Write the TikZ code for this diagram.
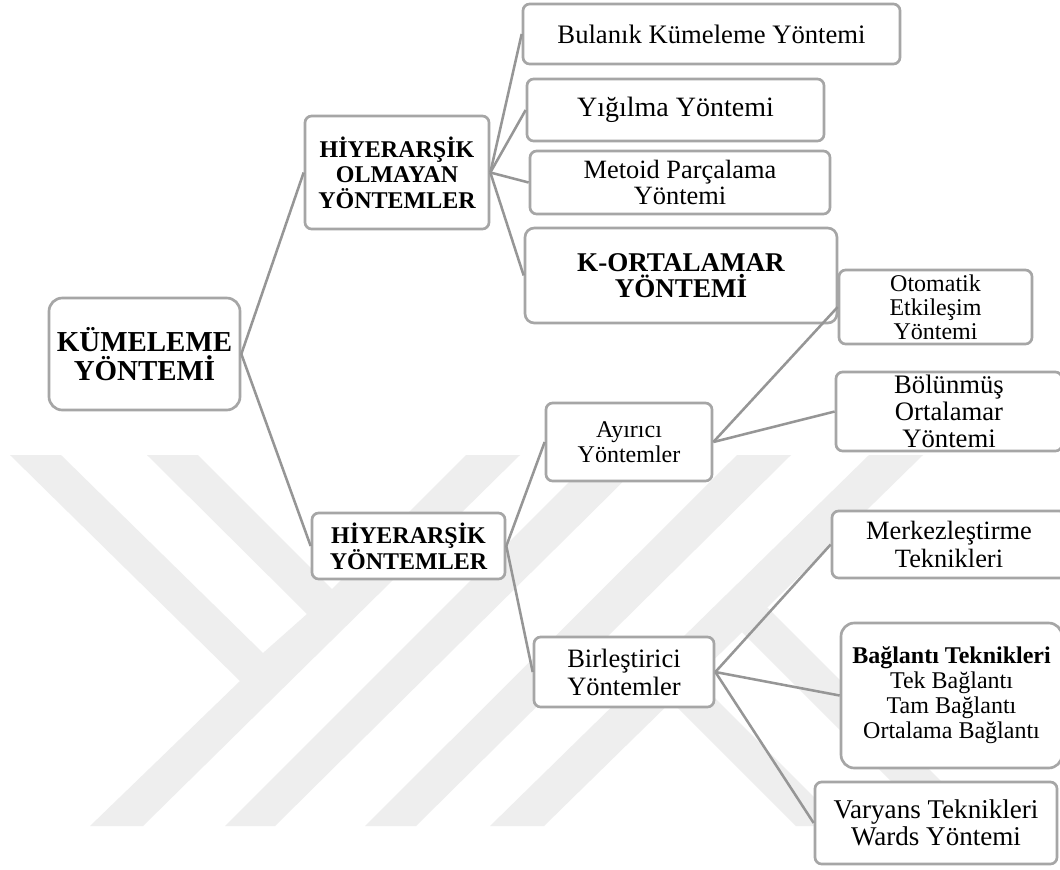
\documentclass[tikz,border=0pt]{standalone}
\usepackage{fontspec}
\setmainfont{Liberation Serif}
\definecolor{boxgrey}{RGB}{166,166,166}
\definecolor{linegrey}{RGB}{150,150,150}
\definecolor{markgrey}{RGB}{238,238,238}
\tikzset{
  boxnode/.style={draw=boxgrey,line width=2pt,rounded corners=5pt,fill=white,align=center,inner sep=0pt},
  sized/.style 2 args={minimum width=#1*0.75pt,minimum height=#2*0.75pt},
  plaintext/.style={align=center,inner sep=0pt},
  link/.style={draw=linegrey,line width=1.9pt},
}
\newcommand{\fs}[2]{\fontsize{#1}{#2}\selectfont}
\begin{document}
\begin{tikzpicture}[x=0.75pt,y=0.75pt,yscale=-1,xscale=1]
    \clip (0,0) rectangle (1060,869);
    \fill[white] (0,0) rectangle (1060,869);

    % background mark
    \fill[markgrey] (10,455) -- (61,455) -- (263,653) -- (307,614) -- (147,455) -- (198,455) -- (332,589) -- (466,455) -- (520,455) -- (143,826) -- (90,826) -- (240,681) -- cycle;
    \fill[markgrey] (596,455) -- (650,455) -- (275,826) -- (225,826) -- cycle;
    \fill[markgrey] (737,455) -- (791,455) -- (416,826) -- (365,826) -- cycle;
    \fill[markgrey] (869,455) -- (923,455) -- (544,826) -- (490,826) -- cycle;
    \fill[markgrey] (610,640) -- (657,640) -- (843,826) -- (796,826) -- cycle;
    \fill[markgrey] (767,607) -- (986,826) -- (936,826) -- (742,632) -- cycle;

    % left part
    \node[boxnode,rounded corners=10pt,sized={191}{112},font=\fs{21.7}{22}\bfseries] (root) at (144.5,354) {KÜMELEME\\YÖNTEMİ};
    \node[boxnode,sized={184}{113},font=\fs{18}{19}\bfseries] (nonhier) at (397,172.5) {HİYERARŞİK\\OLMAYAN\\YÖNTEMLER};
    \node[boxnode,sized={193}{66},font=\fs{18}{17.5}\bfseries] (hier) at (408.5,546) {HİYERARŞİK\\YÖNTEMLER};

    % top right
    \node[boxnode,sized={377}{60},font=\fs{20}{24}] (fuzzy) at (711.5,34) {Bulanık Kümeleme Yöntemi};
    \node[boxnode,sized={297}{62},font=\fs{21}{25}] (agglo) at (675.5,110) {Yığılma Yöntemi};
    \node[boxnode,sized={300}{63},font=\fs{19.8}{20}] (medoid) at (680,182.5) {Metoid Parçalama\\Yöntemi};
    \node[boxnode,rounded corners=7pt,sized={312}{95},font=\fs{20.3}{20}\bfseries] (kmeans) at (681,275.5) {K-ORTALAMAR\\YÖNTEMİ};

    % middle
    \node[boxnode,sized={166}{78},font=\fs{18}{18.7}] (divis) at (629,442) {Ayırıcı\\Yöntemler};
    \node[boxnode,sized={180}{70},font=\fs{19.9}{21}] (merge) at (624,672) {Birleştirici\\Yöntemler};

    % bottom right
    \node[boxnode,sized={193}{74},font=\fs{18}{18}] (auto) at (935.5,307) {Otomatik\\Etkileşim\\Yöntemi};
    \node[boxnode,sized={226}{79}] (bisect) at (949,411.5) {};
    \node[plaintext,font=\fs{20}{20}] (bisecttext) at (949,411.5) {Bölünmüş\\Ortalamar\\Yöntemi};
    \node[boxnode,sized={234}{67},font=\fs{19.8}{20.5}] (centroid) at (949,544.5) {Merkezleştirme\\Teknikleri};
    \node[boxnode,rounded corners=10pt,sized={221}{145},font=\fs{18}{18.8}] (linkage) at (951.5,695.5) {\textbf{Bağlantı Teknikleri}\\Tek Bağlantı\\Tam Bağlantı\\Ortalama Bağlantı};
    \node[boxnode,sized={242}{82},font=\fs{20.3}{20}] (ward) at (936,823) {Varyans Teknikleri\\Wards Yöntemi};

    % connectors
    \draw[link] (root.east) -- (nonhier.west);
    \draw[link] (root.east) -- (hier.west);
    \draw[link] (nonhier.east) -- (fuzzy.west);
    \draw[link] (nonhier.east) -- (agglo.west);
    \draw[link] (nonhier.east) -- (medoid.west);
    \draw[link] (nonhier.east) -- (kmeans.west);
    \draw[link] (hier.east) -- (divis.west);
    \draw[link] (hier.east) -- (merge.west);
    \draw[link] (divis.east) -- (auto.west);
    \draw[link] (divis.east) -- (bisect.west);
    \draw[link] (merge.east) -- (centroid.west);
    \draw[link] (merge.east) -- (linkage.west);
    \draw[link] (merge.east) -- (ward.west);
\end{tikzpicture}
\end{document}
